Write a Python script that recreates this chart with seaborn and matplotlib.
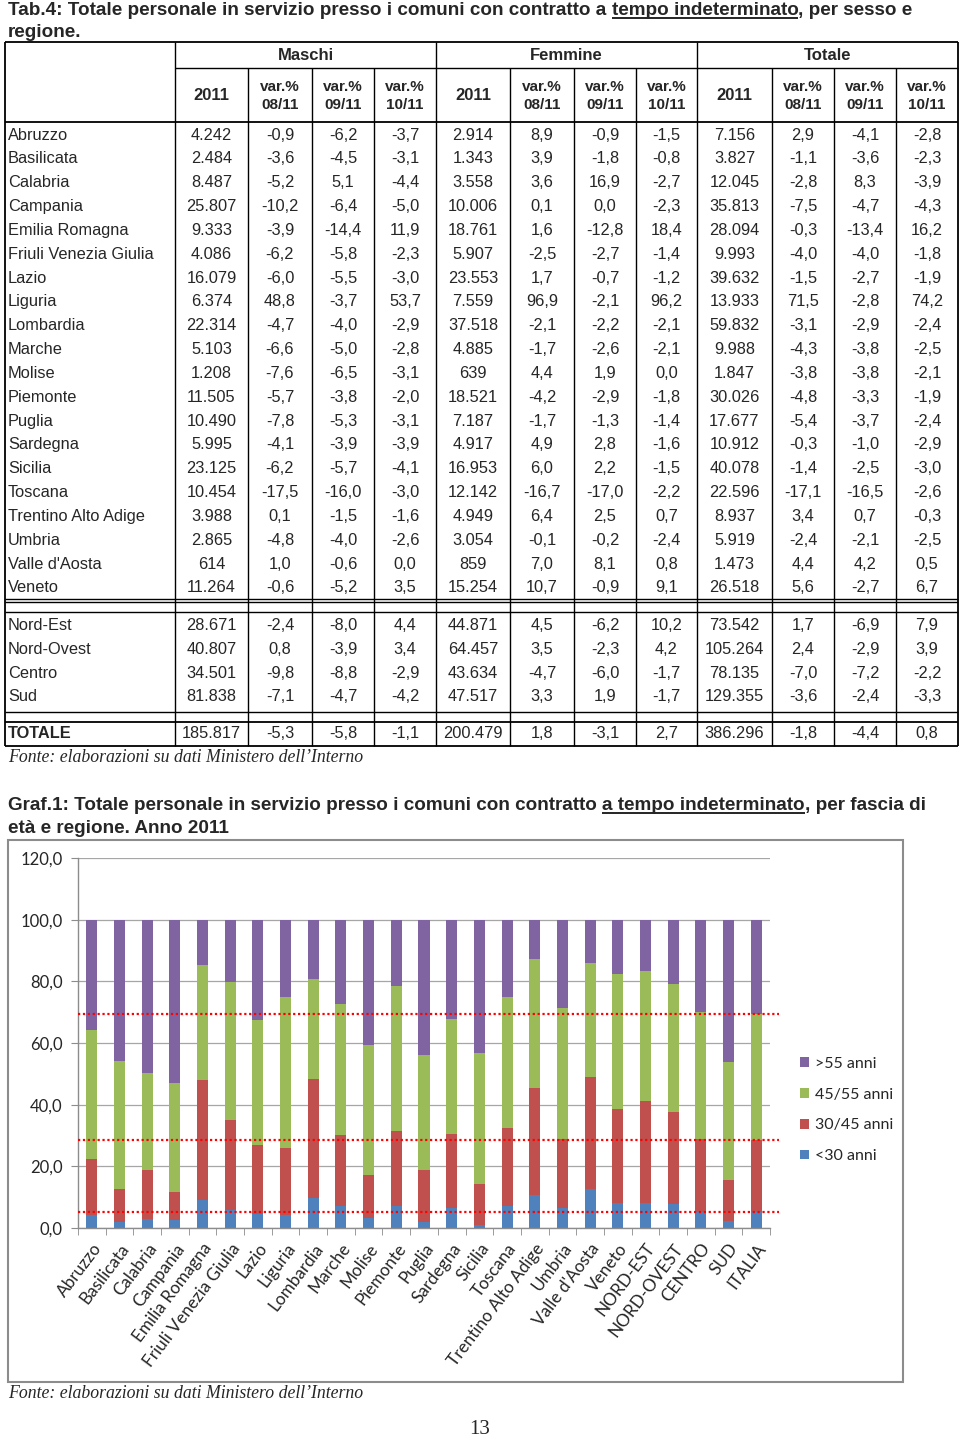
import numpy as np
import pandas as pd
import matplotlib
matplotlib.use("Agg")
import matplotlib.pyplot as plt
import seaborn as sns
from matplotlib.lines import Line2D
from matplotlib.patches import Rectangle, Patch

# ---- table data (Tab.4) ----
row_labels = ["Abruzzo", "Basilicata", "Calabria", "Campania", "Emilia Romagna",
              "Friuli Venezia Giulia", "Lazio", "Liguria", "Lombardia", "Marche",
              "Molise", "Piemonte", "Puglia", "Sardegna", "Sicilia", "Toscana",
              "Trentino Alto Adige", "Umbria", "Valle d'Aosta", "Veneto",
              "Nord-Est", "Nord-Ovest", "Centro", "Sud", "TOTALE"]

m_2011 = [4242, 2484, 8487, 25807, 9333, 4086, 16079, 6374, 22314, 5103, 1208, 11505,
          10490, 5995, 23125, 10454, 3988, 2865, 614, 11264, 28671, 40807, 34501, 81838, 185817]
m_v0811 = [-0.9, -3.6, -5.2, -10.2, -3.9, -6.2, -6.0, 48.8, -4.7, -6.6, -7.6, -5.7, -7.8,
           -4.1, -6.2, -17.5, 0.1, -4.8, 1.0, -0.6, -2.4, 0.8, -9.8, -7.1, -5.3]
m_v0911 = [-6.2, -4.5, 5.1, -6.4, -14.4, -5.8, -5.5, -3.7, -4.0, -5.0, -6.5, -3.8, -5.3,
           -3.9, -5.7, -16.0, -1.5, -4.0, -0.6, -5.2, -8.0, -3.9, -8.8, -4.7, -5.8]
m_v1011 = [-3.7, -3.1, -4.4, -5.0, 11.9, -2.3, -3.0, 53.7, -2.9, -2.8, -3.1, -2.0, -3.1,
           -3.9, -4.1, -3.0, -1.6, -2.6, 0.0, 3.5, 4.4, 3.4, -2.9, -4.2, -1.1]
f_2011 = [2914, 1343, 3558, 10006, 18761, 5907, 23553, 7559, 37518, 4885, 639, 18521,
          7187, 4917, 16953, 12142, 4949, 3054, 859, 15254, 44871, 64457, 43634, 47517, 200479]
f_v0811 = [8.9, 3.9, 3.6, 0.1, 1.6, -2.5, 1.7, 96.9, -2.1, -1.7, 4.4, -4.2, -1.7,
           4.9, 6.0, -16.7, 6.4, -0.1, 7.0, 10.7, 4.5, 3.5, -4.7, 3.3, 1.8]
f_v0911 = [-0.9, -1.8, 16.9, 0.0, -12.8, -2.7, -0.7, -2.1, -2.2, -2.6, 1.9, -2.9, -1.3,
           2.8, 2.2, -17.0, 2.5, -0.2, 8.1, -0.9, -6.2, -2.3, -6.0, 1.9, -3.1]
f_v1011 = [-1.5, -0.8, -2.7, -2.3, 18.4, -1.4, -1.2, 96.2, -2.1, -2.1, 0.0, -1.8, -1.4,
           -1.6, -1.5, -2.2, 0.7, -2.4, 0.8, 9.1, 10.2, 4.2, -1.7, -1.7, 2.7]
t_2011 = [7156, 3827, 12045, 35813, 28094, 9993, 39632, 13933, 59832, 9988, 1847, 30026,
          17677, 10912, 40078, 22596, 8937, 5919, 1473, 26518, 73542, 105264, 78135, 129355, 386296]
t_v0811 = [2.9, -1.1, -2.8, -7.5, -0.3, -4.0, -1.5, 71.5, -3.1, -4.3, -3.8, -4.8, -5.4,
           -0.3, -1.4, -17.1, 3.4, -2.4, 4.4, 5.6, 1.7, 2.4, -7.0, -3.6, -1.8]
t_v0911 = [-4.1, -3.6, 8.3, -4.7, -13.4, -4.0, -2.7, -2.8, -2.9, -3.8, -3.8, -3.3, -3.7,
           -1.0, -2.5, -16.5, 0.7, -2.1, 4.2, -2.7, -6.9, -2.9, -7.2, -2.4, -4.4]
t_v1011 = [-2.8, -2.3, -3.9, -4.3, 16.2, -1.8, -1.9, 74.2, -2.4, -2.5, -2.1, -1.9, -2.4,
           -2.9, -3.0, -2.6, -0.3, -2.5, 0.5, 6.7, 7.9, 3.9, -2.2, -3.3, 0.8]

# ---- chart data (Graf.1), % per age band ----
chart_labels = ["Abruzzo", "Basilicata", "Calabria", "Campania", "Emilia Romagna",
                "Friuli Venezia Giulia", "Lazio", "Liguria", "Lombardia", "Marche",
                "Molise", "Piemonte", "Puglia", "Sardegna", "Sicilia", "Toscana",
                "Trentino Alto Adige", "Umbria", "Valle d'Aosta", "Veneto",
                "NORD-EST", "NORD-OVEST", "CENTRO", "SUD", "ITALIA"]
under30 = [4.1, 2.0, 2.8, 2.7, 9.0, 6.0, 4.4, 4.2, 9.8, 7.0, 3.4, 7.2, 2.0, 6.4, 0.9,
           7.2, 10.6, 6.4, 12.8, 8.0, 8.2, 7.7, 5.2, 2.4, 5.2]
age30_45 = [18.4, 10.7, 16.1, 8.9, 39.0, 29.0, 22.4, 21.7, 38.4, 23.1, 13.8, 24.4, 16.9,
            24.2, 13.5, 25.3, 34.7, 22.4, 36.2, 30.6, 32.9, 30.0, 23.8, 13.1, 23.5]
age45_55 = [41.6, 41.6, 31.3, 35.4, 37.3, 44.8, 40.5, 49.0, 32.5, 42.5, 42.0, 46.9, 37.1,
            37.2, 42.2, 42.3, 41.9, 42.4, 36.8, 43.8, 42.2, 41.4, 41.1, 38.5, 40.6]
over55 = [35.9, 45.7, 49.8, 53.0, 14.7, 20.2, 32.7, 25.1, 19.3, 27.4, 40.8, 21.5, 44.0,
          32.2, 43.4, 25.2, 12.8, 28.8, 14.2, 17.6, 16.7, 20.9, 29.9, 46.0, 30.7]
series_names = ["<30 anni", "30/45 anni", "45/55 anni", ">55 anni"]

BLUE, RED, GREEN, PURPLE = "#4F81BD", "#C0504D", "#9BBB59", "#8064A2"
SANS = ["Liberation Sans", "DejaVu Sans"]
SERIF = ["Liberation Serif", "DejaVu Serif"]
CHART_FONT = ["Lato", "DejaVu Sans"]

sns.set_style("white")
plt.rcParams["font.family"] = SANS

W, H = 960, 1440
fig = plt.figure(figsize=(9.6, 14.4), dpi=100)
renderer = fig.canvas.get_renderer()


def fx(x):
    return x / W


def fy(y):
    return 1 - y / H


def hline(x0, x1, y, lw=1.0, color="black"):
    fig.add_artist(Line2D([fx(x0), fx(x1)], [fy(y), fy(y)], transform=fig.transFigure,
                          lw=lw, color=color, solid_capstyle="butt"))


def vline(x, y0, y1, lw=1.0, color="black"):
    fig.add_artist(Line2D([fx(x), fx(x)], [fy(y0), fy(y1)], transform=fig.transFigure,
                          lw=lw, color=color, solid_capstyle="butt"))


def text_runs(x, y, runs, **kw):
    # consecutive text pieces, some underlined
    probe1 = fig.text(0, 0, "x x", **kw)
    probe2 = fig.text(0, 0, "xx", **kw)
    sp = probe1.get_window_extent(renderer).width - probe2.get_window_extent(renderer).width
    probe1.remove()
    probe2.remove()
    for s, ul in runs:
        t = fig.text(fx(x), fy(y), s.rstrip(), ha="left", va="baseline", **kw)
        w = t.get_window_extent(renderer).width
        if ul:
            hline(x, x + w, y + 3, lw=1.2)
        x += w + (sp if s.endswith(" ") else 0)


def fmt_int(v):
    return f"{v:,}".replace(",", ".")


def fmt_dec(v):
    return f"{v:.1f}".replace(".", ",")


# ---- Tab.4 title ----
title_kw = dict(fontsize=13.6, fontweight="bold", family=SANS)
text_runs(8, 15, [("Tab.4: Totale personale in servizio presso i comuni con contratto a ", False),
                  ("tempo indeterminato", True), (", per sesso e", False)], **title_kw)
fig.text(fx(8), fy(37), "regione.", ha="left", va="baseline", **title_kw)

# ---- table grid ----
col_edges = [175, 248, 312, 374, 436, 510, 574, 636, 697, 772, 834, 896, 958]
T_TOP, T_H1, T_H2, T_BOT = 42, 68, 122, 746
hline(5, 958, T_TOP, lw=1.3)
hline(175, 958, T_H1)
hline(5, 958, T_H2, lw=1.3)
hline(5, 958, 599)
hline(5, 958, 601.5)
hline(5, 958, 612)
hline(5, 958, 712)
hline(5, 958, 722, lw=1.3)
hline(5, 958, T_BOT, lw=1.3)
vline(5, T_TOP, T_BOT, lw=1.3)
vline(958, T_TOP, T_BOT, lw=1.3)
for i, x in enumerate(col_edges[:-1]):
    top = T_TOP if i % 4 == 0 else T_H1
    vline(x, top, T_BOT)

# headers
groups = ["Maschi", "Femmine", "Totale"]
for g, name in enumerate(groups):
    x0, x1 = col_edges[g * 4], col_edges[g * 4 + 4]
    fig.text(fx((x0 + x1) / 2), fy(55), name, ha="center", va="center",
             fontsize=12, fontweight="bold")
    fig.text(fx((col_edges[g * 4] + col_edges[g * 4 + 1]) / 2), fy(95), "2011",
             ha="center", va="center", fontsize=12, fontweight="bold")
    for k, per in enumerate(["08/11", "09/11", "10/11"]):
        xc = (col_edges[g * 4 + 1 + k] + col_edges[g * 4 + 2 + k]) / 2
        fig.text(fx(xc), fy(87), "var.%", ha="center", va="center", fontsize=11,
                 fontweight="bold")
        fig.text(fx(xc), fy(105), per, ha="center", va="center", fontsize=11,
                 fontweight="bold")

# body
columns = [m_2011, m_v0811, m_v0911, m_v1011, f_2011, f_v0811, f_v0911, f_v1011,
           t_2011, t_v0811, t_v0911, t_v1011]
row_y = [135 + i * 23.84 for i in range(20)] + [625 + j * 24 for j in range(4)] + [734]
for r, label in enumerate(row_labels):
    fw = "bold" if label == "TOTALE" else "normal"
    fig.text(fx(8), fy(row_y[r]), label, ha="left", va="center", fontsize=11.8, fontweight=fw)
    for c, col in enumerate(columns):
        xc = (col_edges[c] + col_edges[c + 1]) / 2
        s = fmt_int(col[r]) if c % 4 == 0 else fmt_dec(col[r])
        fig.text(fx(xc), fy(row_y[r]), s, ha="center", va="center", fontsize=11.8)

fig.text(fx(8), fy(758), "Fonte: elaborazioni su dati Ministero dell\u2019Interno",
         ha="left", va="center", fontsize=12.8, style="italic", family=SERIF)

# ---- Graf.1 title ----
text_runs(8, 810, [("Graf.1: Totale personale in servizio presso i comuni con contratto ", False),
                   ("a tempo indeterminato", True), (", per fascia di", False)], **title_kw)
fig.text(fx(8), fy(833), "et\u00e0 e regione. Anno 2011", ha="left", va="baseline", **title_kw)

# chart frame
fig.add_artist(Rectangle((fx(8), fy(1382)), (903 - 8) / W, (1382 - 840) / H,
                         transform=fig.transFigure, fill=False, edgecolor="#8C8C8C", lw=1.5))

# ---- stacked bars ----
df = pd.DataFrame({"area": chart_labels, "u30": under30, "a30": age30_45,
                   "a45": age45_55, "o55": over55})
df["c1"] = df["u30"]
df["c2"] = df["c1"] + df["a30"]
df["c3"] = df["c2"] + df["a45"]
df["c4"] = df["c3"] + df["o55"]

ax = fig.add_axes([fx(78), fy(1228), (770 - 78) / W, (1228 - 858) / H])
for col, color in [("c4", PURPLE), ("c3", GREEN), ("c2", RED), ("c1", BLUE)]:
    sns.barplot(data=df, x="area", y=col, order=chart_labels, color=color, saturation=1,
                width=0.4, linewidth=0, ax=ax, zorder=2)

# reference lines at the ITALIA cumulative levels
italia = df.iloc[-1]
for v in [italia["c1"], italia["c2"], italia["c3"]]:
    ax.plot([-0.5, 24.83], [v, v], color="#FF0000", lw=1.6, ls=(0, (1, 1.2)),
            clip_on=False, zorder=3)

ax.set_xlim(-0.5, 24.5)
ax.set_ylim(0, 120)
ax.set_xlabel("")
ax.set_ylabel("")
ax.set_axisbelow(True)
ax.yaxis.grid(True, color="#A6A6A6", lw=0.9)
ax.xaxis.grid(False)
for side in ["top", "right"]:
    ax.spines[side].set_visible(False)
for side in ["left", "bottom"]:
    ax.spines[side].set_color("#8C8C8C")
    ax.spines[side].set_linewidth(1.0)

yt = np.arange(0, 121, 20)
ax.set_yticks(yt)
ax.set_yticklabels([fmt_dec(v) for v in yt], family=CHART_FONT, fontsize=12, color="#262626")
ax.tick_params(axis="y", length=5, color="#8C8C8C", direction="out", pad=6, left=True)
ax.set_xticks(range(len(chart_labels)))
ax.set_xticklabels(chart_labels, rotation=53, ha="right", rotation_mode="anchor",
                   family=CHART_FONT, fontsize=12.3, color="#262626")
ax.tick_params(axis="x", which="major", length=0, pad=9, bottom=True)
ax.set_xticks(np.arange(-0.5, len(chart_labels), 1), minor=True)
ax.tick_params(axis="x", which="minor", length=5, color="#8C8C8C", direction="out", bottom=True)

handles = [Patch(facecolor=c, edgecolor="none") for c in [PURPLE, GREEN, RED, BLUE]]
labels = [series_names[3], series_names[2], series_names[1], series_names[0]]
fig.legend(handles, labels, loc="center left", bbox_to_anchor=(fx(800), fy(1110)),
           frameon=False, prop={"family": CHART_FONT, "size": 11.5},
           handlelength=0.55, handleheight=0.55, handletextpad=0.4, labelspacing=1.05,
           borderpad=0, borderaxespad=0)

fig.text(fx(8), fy(1393), "Fonte: elaborazioni su dati Ministero dell\u2019Interno",
         ha="left", va="center", fontsize=12.8, style="italic", family=SERIF)
fig.text(fx(480), fy(1430), "13", ha="center", va="center", fontsize=15, family=SERIF)

fig.savefig("out.png", dpi=100)
